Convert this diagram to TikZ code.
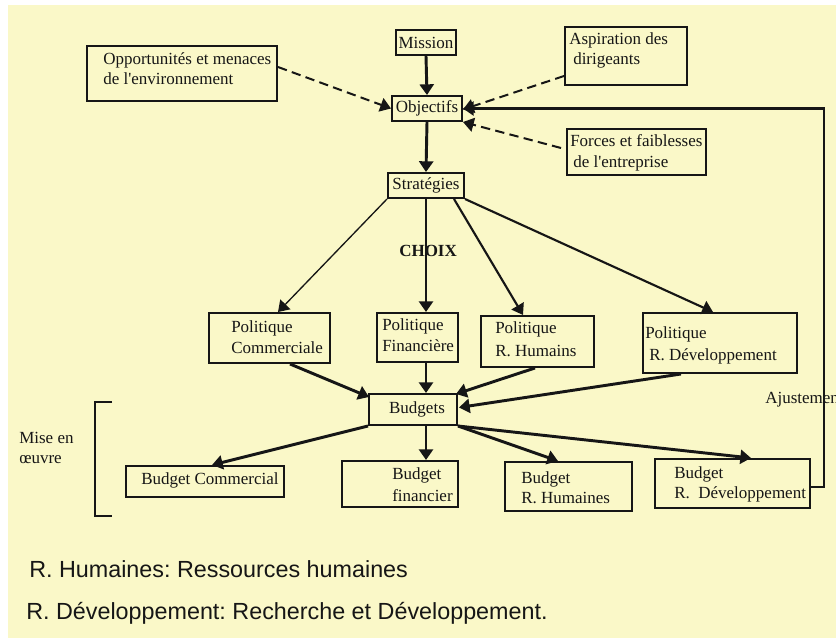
\documentclass[tikz,border=0pt]{standalone}
\usepackage{fontspec}
\setmainfont{Liberation Serif}
\newfontfamily\legendfont{Liberation Sans}
\usetikzlibrary{arrows.meta,fit,calc}
\definecolor{paper}{RGB}{250,248,200}
\definecolor{ink}{RGB}{22,22,22}
\newcommand{\boxfont}{\fontsize{12.75}{15}\selectfont}
\newcommand{\keyfont}{\legendfont\fontsize{17.5}{21}\selectfont}
\frenchspacing
\begin{document}
\begin{tikzpicture}[x=0.75pt,y=-0.75pt,
  box/.style={draw=ink,line width=1.5pt,inner sep=0pt},
  lbl/.style={anchor=base west,inner sep=0pt,font=\boxfont,text=ink},
  ctr/.style={anchor=center,inner sep=0pt,font=\boxfont,text=ink},
  keytext/.style={anchor=base west,inner sep=0pt,font=\keyfont,text=ink},
  tip/.style={-{Triangle[length=8pt,width=10.5pt]}},
  heavy/.style={draw=ink,line width=2.2pt,tip},
  medium/.style={draw=ink,line width=1.6pt,tip},
  light/.style={draw=ink,line width=1pt,tip},
  dashlink/.style={draw=ink,line width=1.5pt,dash pattern=on 7pt off 4pt,tip},
]
\useasboundingbox (0,0) rectangle (836,638);
\fill[paper] (8,5) rectangle (836,638);

% boxes
\node[box, fit={(396,30)(456,55)}] (mission) {};
\node[box, fit={(392,96)(462,121)}] (obj) {};
\node[box, fit={(87,46)(277,101)}] (opp) {};
\node[box, fit={(565,27)(687,85)}] (asp) {};
\node[box, fit={(567,129)(706,175)}] (forces) {};
\node[box, fit={(388,173)(464,198)}] (strat) {};
\node[box, fit={(209,313)(330,363)}] (polc) {};
\node[box, fit={(377,313)(458,362)}] (polf) {};
\node[box, fit={(481,316)(594,367)}] (polh) {};
\node[box, fit={(643,313)(797,373)}] (polr) {};
\node[box, fit={(369,394)(457,425)}] (budgets) {};
\node[box, fit={(126,466)(284,497)}] (bc) {};
\node[box, fit={(342,461)(458,507)}] (bf) {};
\node[box, fit={(505,462)(632,511)}] (bh) {};
\node[box, fit={(655,459)(810,508)}] (br) {};

% box texts
\node[ctr] (missiontxt) at (mission.center) {Mission};
\node[ctr] (objtxt) at (obj.center) {Objectifs};
\node[ctr] (strattxt) at (strat.center) {Stratégies};
\node[ctr] (budgetstxt) at ($(budgets.center)+(4,0)$) {Budgets};
\node[lbl] (opp1) at (103,65) {Opportunités et menaces};
\node[lbl] (opp2) at (103,85) {de l\textquotesingle environnement};
\node[lbl] (asp1) at (569,45) {Aspiration des};
\node[lbl] (asp2) at (573,65) {dirigeants};
\node[lbl] (for1) at (570,147) {Forces et faiblesses};
\node[lbl] (for2) at (573,168) {de l\textquotesingle entreprise};
\node[lbl] (polc1) at (231,332) {Politique};
\node[lbl] (polc2) at (231,353) {Commerciale};
\node[lbl] (polf1) at (382,330) {Politique};
\node[lbl] (polf2) at (382,351) {Financière};
\node[lbl] (polh1) at (495,334) {Politique};
\node[lbl] (polh2) at (495,356) {R. Humains};
\node[lbl] (polr1) at (645,338) {Politique};
\node[lbl] (polr2) at (649,360) {R. Développement};
\node[lbl] (bc1) at (141,484) {Budget Commercial};
\node[lbl] (bf1) at (392,479) {Budget};
\node[lbl] (bf2) at (392,501) {financier};
\node[lbl] (bh1) at (521,483) {Budget};
\node[lbl] (bh2) at (521,503) {R. Humaines};
\node[lbl] (br1) at (674,478) {Budget};
\node[lbl] (br2) at (674,498) {R.\ \ Développement};

% main axis
\coordinate (axis) at (426,300);

% connectors
\draw[heavy] (mission.south) -- (obj.north);
\draw[dashlink] ($(opp.north east)+(0,22)$) -- (obj.west);
\draw[dashlink] ($(asp.south west)+(0,-10)$) -- ($(obj.east)+(0,1)$);
\draw[dashlink] ($(forces.west)+(-5,-4)$) -- (obj.south east);
\draw[heavy] (obj.south) -- (strat.north);
\draw[light] (strat.south west) -- ($(polc.north west)+(70,0)$);
\draw[heavy] (strat.south -| axis) -- (polf.north -| axis);
\draw[medium] ($(strat.south)+(28,0)$) -- ($(polh.north west)+(43,0)$);
\draw[medium] (strat.south east) -- ($(polr.north west)+(71,0)$);
\draw[heavy] ($(polc.south west)+(82,0)$) -- ($(budgets.north west)+(1,4)$);
\draw[heavy] (polf.south -| axis) -- (budgets.north -| axis);
\draw[heavy] ($(polh.south west)+(55,0)$) -- ($(budgets.north east)+(-2,1)$);
\draw[heavy] ($(polr.south west)+(39,0)$) -- ($(budgets.east)+(1,-2)$);
\draw[heavy] (budgets.south west) -- ($(bc.north west)+(87,0)$);
\draw[heavy] (budgets.south -| axis) -- (bf.north -| axis);
\draw[heavy] (budgets.south east) -- ($(bh.north west)+(54,0)$);
\draw[heavy] (budgets.south east) -- ($(br.north west)+(97,0)$);
\draw[heavy, line join=miter] ($(br.east)+(0,3.5)$) -| ($(obj.east)+(361,0)$) -- (obj.east);

\node[anchor=base west, inner sep=0pt, font=\boxfont\bfseries, text=ink] (choix) at (399,257) {CHOIX};
\node[lbl] (ajust) at (765,403) {Ajustement};

% implementation bracket
\draw[draw=ink, line width=2pt] (112,402) -- (95,402) -- (95,516) -- (112,516);
\node[lbl] (mise1) at (19,443) {Mise en};
\node[lbl] (mise2) at (19,463) {œuvre};

% key
\node[keytext] (key1) at (29,577) {R. Humaines: Ressources humaines};
\node[keytext] (key2) at (26,619) {R. Développement: Recherche et Développement.};
\end{tikzpicture}
\end{document}
